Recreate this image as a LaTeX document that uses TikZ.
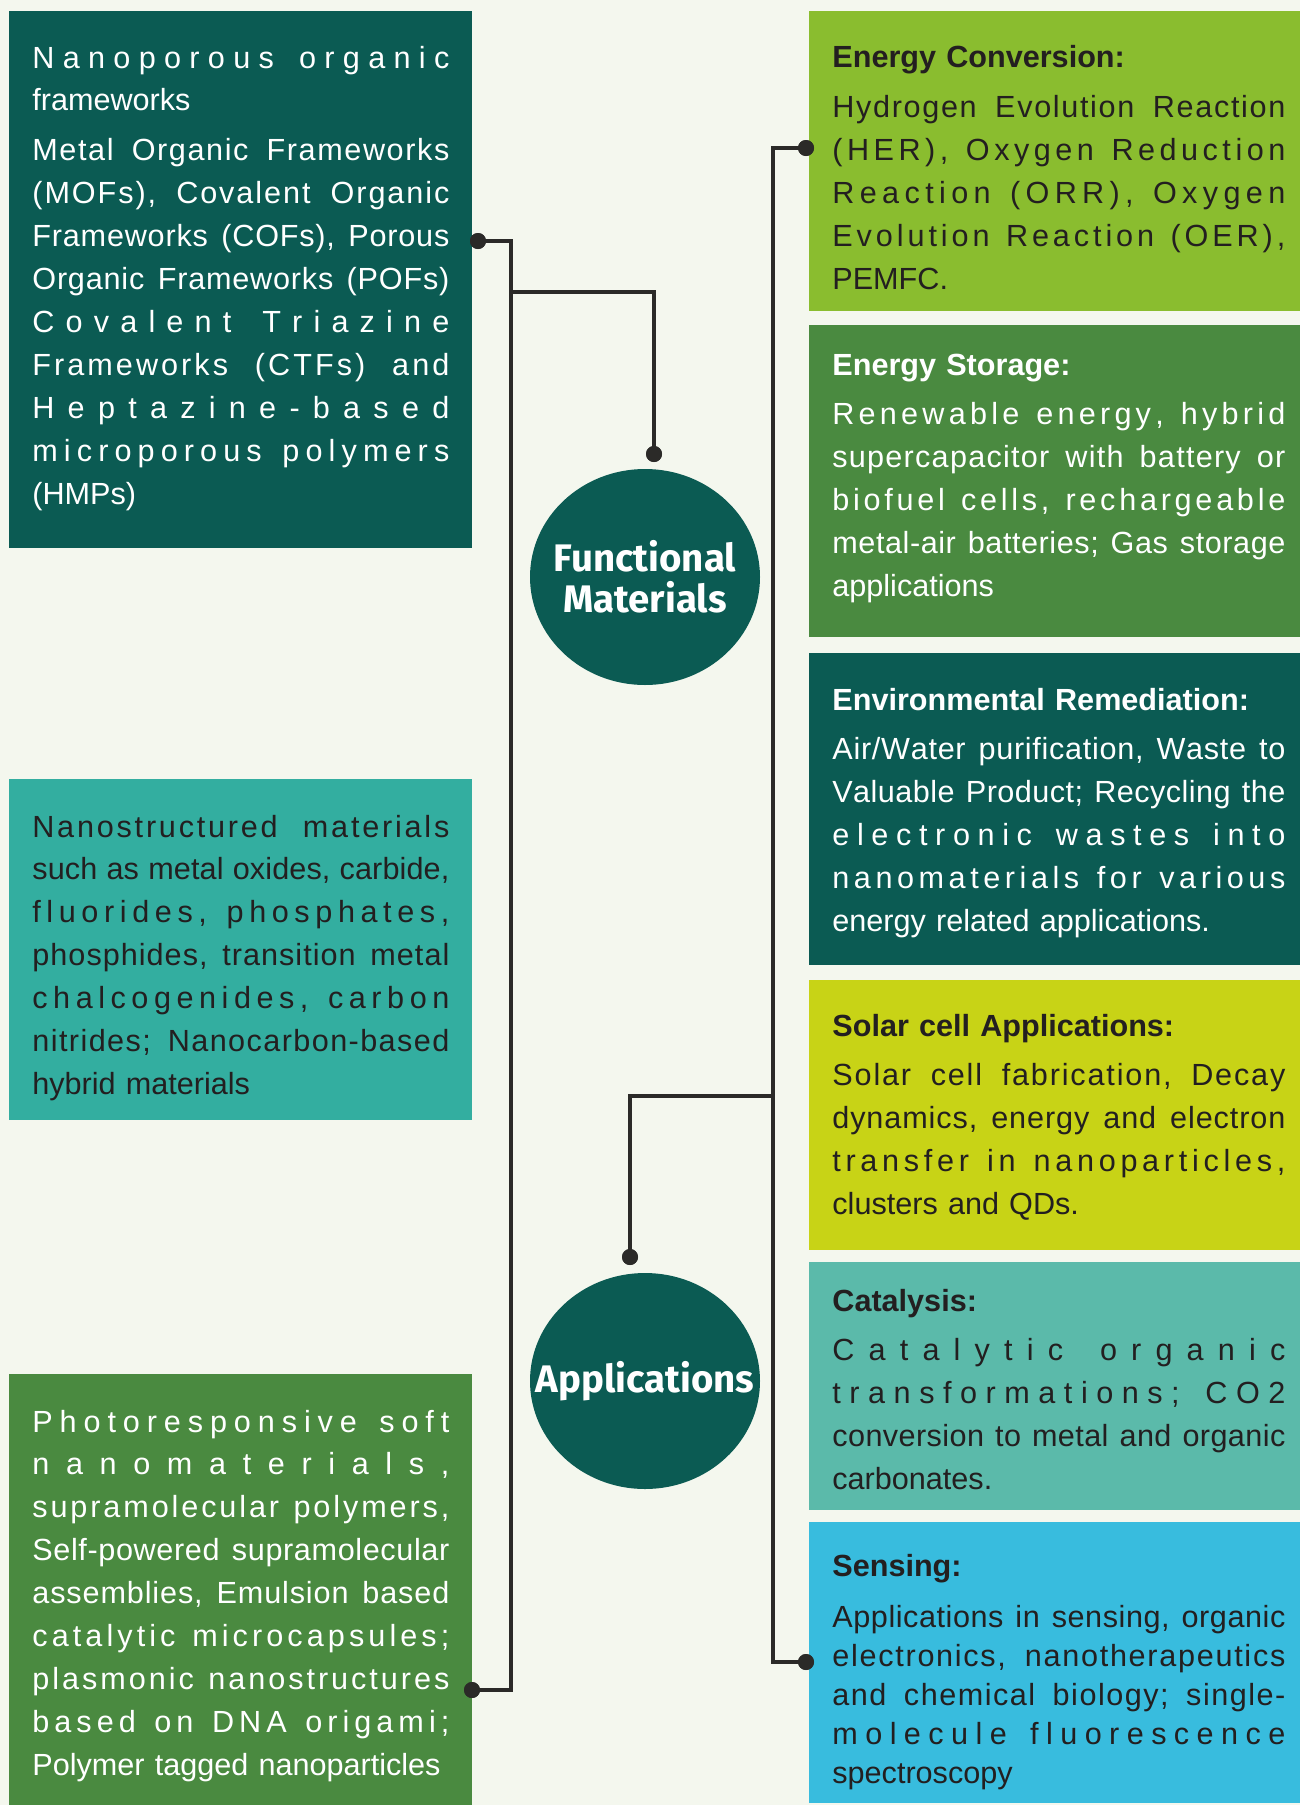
\documentclass[tikz,border=0pt]{standalone}
\usepackage{fontspec}
\setmainfont{Liberation Sans}
\newfontfamily\roundfont{Fira Sans}
\usetikzlibrary{shapes.geometric}

\definecolor{bgcream}{HTML}{F4F7EE}
\definecolor{deepteal}{HTML}{0B5B53}
\definecolor{midteal}{HTML}{33AEA0}
\definecolor{leafgreen}{HTML}{4A8A40}
\definecolor{limegreen}{HTML}{8ABD2F}
\definecolor{yellowgreen}{HTML}{C8D316}
\definecolor{paleteal}{HTML}{5BBAAA}
\definecolor{skyblue}{HTML}{38BCDE}
\definecolor{inkdark}{HTML}{231F20}
\definecolor{wiredark}{HTML}{2B2A28}

% letter spacing: \hfil between the letters of one word
\def\lsloop#1{\ifx#1\relax\else\hfil#1\expandafter\lsloop\fi}
\def\lsfirst#1{#1\lsloop}
\newcommand\ls[1]{\lsfirst#1\relax}
% word gaps: wide spacing (\gap) or mostly words (\wordgap)
\newcommand\gap{\hskip0.28em plus 2fil\relax}
\newcommand\wordgap{\hskip0.28em plus 6fil\relax}
\def\jmstop{\jmstop}
\def\jmloop#1 #2{\ls{#1}\ifx#2\jmstop\else\wordgap\expandafter\jmloop\expandafter#2\fi}
% justified lines
\newcommand\jm[1]{\makebox[\linewidth][s]{\jmloop#1 \jmstop}}
\newcommand\jh[1]{\makebox[\linewidth][s]{\let\wordgap\gap\jmloop#1 \jmstop}}

\begin{document}
\begin{tikzpicture}[
    x=0.5pt, y=-0.5pt,
    panel/.style={rectangle, draw=none, inner sep=0pt, outer sep=0pt, anchor=north west},
    lefttxt/.style={anchor=base west, inner sep=0pt, text width=208.5pt, align=left,
      font=\fontsize{15.3}{21.45}\selectfont},
    righttxt/.style={anchor=base west, inner sep=0pt, text width=226.5pt, align=left,
      font=\fontsize{15.3}{21.45}\selectfont},
    hub/.style={ellipse, fill=deepteal, minimum width=115pt, minimum height=108pt, inner sep=0pt},
    hubtxt/.style={text=white, align=center, inner sep=0pt,
      font=\roundfont\bfseries\fontsize{19.2}{20.5}\selectfont},
    link/.style={draw=wiredark, line width=1.6pt},
    dot/.style={circle, fill=wiredark, minimum size=8pt, inner sep=0pt}
  ]

  \useasboundingbox (0,0) rectangle (1300,1805);
  \fill[bgcream] (0,0) rectangle (1300,1805);

  % Pannelli a sinistra
  \node[panel, fill=deepteal, minimum width=231.5pt, minimum height=268.5pt] (nof) at (9,11) {};
  \node[panel, fill=midteal, minimum width=231.5pt, minimum height=170.5pt] (nsm) at (9,779) {};
  \node[panel, fill=leafgreen, minimum width=231.5pt, minimum height=215.5pt] (psn) at (9,1374) {};

  % Pannelli a destra
  \node[panel, fill=limegreen, minimum width=245.5pt, minimum height=150pt] (ec) at (809,11) {};
  \node[panel, fill=leafgreen, minimum width=245.5pt, minimum height=156pt] (es) at (809,325) {};
  \node[panel, fill=deepteal, minimum width=245.5pt, minimum height=156pt] (er) at (809,653) {};
  \node[panel, fill=yellowgreen, minimum width=245.5pt, minimum height=135pt] (sc) at (809,980) {};
  \node[panel, fill=paleteal, minimum width=245.5pt, minimum height=124pt] (cat) at (809,1262) {};
  \node[panel, fill=skyblue, minimum width=245.5pt, minimum height=140.5pt] (sens) at (809,1522) {};

  % Testi a sinistra
  \node[lefttxt, text=white] (noftxt) at (32,68) {%
    \jh{Nanoporous organic}\\
    frameworks\\[3.5pt]
    \jm{Metal Organic Frameworks}\\
    \jm{(MOFs), Covalent Organic}\\
    \jm{Frameworks (COFs), Porous}\\
    \jm{Organic Frameworks (POFs)}\\
    \jh{Covalent Triazine}\\
    \jm{Frameworks (CTFs) and}\\
    \jh{Heptazine-based}\\
    \jh{microporous polymers}\\
    (HMPs)};
  \node[lefttxt, text=inkdark] (nsmtxt) at (32,837) {%
    \jm{Nanostructured materials}\\
    \jm{such as metal oxides, carbide,}\\
    \jh{fluorides, phosphates,}\\
    \jm{phosphides, transition metal}\\
    \jh{chalcogenides, carbon}\\
    \jm{nitrides; Nanocarbon-based}\\
    hybrid materials};
  \node[lefttxt, text=white] (psntxt) at (32,1432) {%
    \jh{Photoresponsive soft}\\
    \jh{nanomaterials,}\\
    \jh{supramolecular polymers,}\\
    \jm{Self-powered supramolecular}\\
    \jm{assemblies, Emulsion based}\\
    \jh{catalytic microcapsules;}\\
    \jh{plasmonic nanostructures}\\
    \jh{based on DNA origami;}\\
    Polymer tagged nanoparticles};

  % Testi a destra
  \node[righttxt, text=inkdark] (ectxt) at (832,67.5) {%
    \textbf{Energy Conversion:}\\[3.5pt]
    \jm{Hydrogen Evolution Reaction}\\
    \jh{(HER), Oxygen Reduction}\\
    \jh{Reaction (ORR), Oxygen}\\
    \jh{Evolution Reaction (OER),}\\
    PEMFC.};
  \node[righttxt, text=white] (estxt) at (832,375) {%
    \textbf{Energy Storage:}\\[3.5pt]
    \jh{Renewable energy, hybrid}\\
    \jm{supercapacitor with battery or}\\
    \jh{biofuel cells, rechargeable}\\
    \jm{metal-air batteries; Gas storage}\\
    applications};
  \node[righttxt, text=white] (ertxt) at (832,710) {%
    \textbf{Environmental Remediation:}\\[3.5pt]
    \jm{Air/Water purification, Waste to}\\
    \jm{Valuable Product; Recycling the}\\
    \jh{electronic wastes into}\\
    \jh{nanomaterials for various}\\
    energy related applications.};
  \node[righttxt, text=inkdark] (sctxt) at (832,1036) {%
    \textbf{Solar cell Applications:}\\[3.5pt]
    \jm{Solar cell fabrication, Decay}\\
    \jm{dynamics, energy and electron}\\
    \jh{transfer in nanoparticles,}\\
    clusters and QDs.};
  \node[righttxt, text=inkdark] (cattxt) at (832,1311) {%
    \textbf{Catalysis:}\\[3.5pt]
    \jh{Catalytic organic}\\
    \jh{transformations; CO2}\\
    \jm{conversion to metal and organic}\\
    carbonates.};
  \node[righttxt, text=inkdark, font=\fontsize{15.3}{19.5}\selectfont] (senstxt) at (832,1576) {%
    \textbf{Sensing:}\\[6pt]
    \jm{Applications in sensing, organic}\\
    \jm{electronics, nanotherapeutics}\\
    \jm{and chemical biology; single-}\\
    \jh{molecule fluorescence}\\
    spectroscopy};

  % Cerchi centrali
  \node[hub, label={[hubtxt]center:Functional\\Materials}] (fm) at (645,577) {};
  \node[hub, label={[hubtxt]center:Applications}] (app) at (645,1381) {};

  % Punti di aggancio
  \coordinate (ltop) at (511,241);
  \coordinate (lbr)  at (511,292);
  \coordinate (lbot) at (511,1690);
  \coordinate (rtop) at (773,148);
  \coordinate (rbr)  at (773,1096);
  \coordinate (rbot) at (773,1662);

  \node[dot] (dnof)  at (478,241)  {};
  \node[dot] (dfm)   at (654,454)  {};
  \node[dot] (dpsn)  at (472,1690) {};
  \node[dot] (dec)   at (806,148)  {};
  \node[dot] (dapp)  at (630,1257) {};
  \node[dot] (dsens) at (806,1662) {};

  % Collegamenti
  \draw[link] (dnof.center) -- (ltop) -- (lbot) -- (dpsn.center);
  \draw[link] (lbr) -| (dfm.center);
  \draw[link] (dec.center) -- (rtop) -- (rbot) -- (dsens.center);
  \draw[link] (rbr) -| (dapp.center);

  % punti sopra le linee
  \foreach \d in {dnof, dfm, dpsn, dec, dapp, dsens}
    \fill[wiredark] (\d) circle (8);

\end{tikzpicture}
\end{document}
